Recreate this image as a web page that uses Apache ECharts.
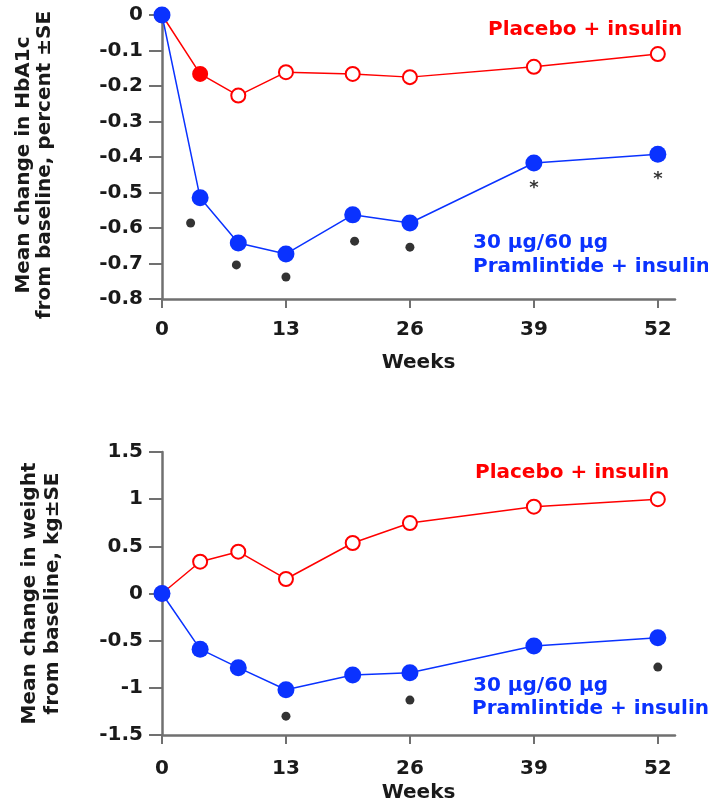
<!DOCTYPE html>
<html>
<head>
<meta charset="utf-8">
<script src="https://cdn.jsdelivr.net/npm/echarts@6/dist/echarts.min.js"></script>
<style>
html,body{margin:0;padding:0;background:#fff;}
#chart{width:708px;height:805px;}
</style>
</head>
<body>
<div id="chart"></div>
<script>
// ---- data ----
const weeks = [0, 4, 8, 13, 20, 26, 39, 52];
const weekTicks = [0, 13, 26, 39, 52];

const hba1cPlacebo = [0, -0.166, -0.227, -0.161, -0.166, -0.175, -0.146, -0.11];
const hba1cPram = [0, -0.515, -0.642, -0.673, -0.563, -0.586, -0.417, -0.392];
const hba1cDotWeeks = [3, 7.8, 13, 20.2, 26];
const hba1cDotValues = [-0.586, -0.704, -0.738, -0.637, -0.654];
const hba1cStarWeeks = [39, 52];
const hba1cStarValues = [-0.479, -0.454];

const weightPlacebo = [0, 0.337, 0.443, 0.154, 0.535, 0.747, 0.92, 1.0];
const weightPram = [0, -0.59, -0.786, -1.02, -0.863, -0.839, -0.556, -0.47];
const weightDotWeeks = [13, 26, 52];
const weightDotValues = [-1.30, -1.13, -0.78];

const placeboLabel = 'Placebo + insulin';
const pramLabel1 = '30 µg/60 µg';
const pramLabel2 = 'Pramlintide + insulin';
const hba1cTitle = 'Mean change in HbA1c\nfrom baseline, percent ±SE';
const weightTitle = 'Mean change in weight\nfrom baseline, kg±SE';
const xTitle = 'Weeks';

// ---- styling ----
const FONT = 'DejaVu Sans';
const FS = 20;
const RED = '#ff0000';
const BLUE = '#0a32ff';
const AXIS = '#707070';
const TXT = '#1a1a1a';

const zip = (xs, ys) => xs.map((x, i) => [x, ys[i]]);

function xAxisDef(gridIndex, nameGap, labelMargin) {
  return {
    type: 'value', gridIndex, min: 0, max: 53.8,
    name: xTitle, nameLocation: 'middle', nameGap,
    nameTextStyle: {fontFamily: FONT, fontWeight: 'bold', fontSize: FS, color: TXT},
    axisLine: {onZero: false, lineStyle: {color: AXIS, width: 2.5}},
    axisTick: {show: true, length: 9, lineStyle: {color: AXIS, width: 2}, customValues: weekTicks},
    axisLabel: {customValues: weekTicks, margin: labelMargin, fontFamily: FONT, fontWeight: 'bold', fontSize: FS, color: TXT},
    splitLine: {show: false}
  };
}
function yAxisDef(gridIndex, min, max, interval, name, nameGap, lineHeight, padding) {
  return {
    type: 'value', gridIndex, min, max, interval,
    name, nameLocation: 'middle', nameGap, nameRotate: 90,
    nameTextStyle: {fontFamily: FONT, fontWeight: 'bold', fontSize: FS, color: TXT, lineHeight, align: 'center', padding},
    axisLine: {show: true, onZero: false, lineStyle: {color: AXIS, width: 2.5}},
    axisTick: {show: true, length: 13, lineStyle: {color: AXIS, width: 2}},
    axisLabel: {margin: 19, fontFamily: FONT, fontWeight: 'bold', fontSize: FS, color: TXT,
      formatter: v => String(parseFloat(v.toFixed(2)))},
    splitLine: {show: false}
  };
}

function placeboSeries(idx, data, filledIdx) {
  return {
    type: 'line', xAxisIndex: idx, yAxisIndex: idx, z: 2,
    data: data.map((d, i) => filledIdx.includes(i) ? {value: d, itemStyle: {color: RED}} : d),
    symbol: 'circle', symbolSize: 14, showAllSymbol: true,
    lineStyle: {color: RED, width: 1.5},
    itemStyle: {color: '#fff', borderColor: RED, borderWidth: 2}
  };
}
function pramSeries(idx, data) {
  return {
    type: 'line', xAxisIndex: idx, yAxisIndex: idx, z: 3,
    data, symbol: 'circle', symbolSize: 17, showAllSymbol: true,
    lineStyle: {color: BLUE, width: 1.5},
    itemStyle: {color: BLUE, borderWidth: 0}
  };
}
function dotSeries(idx, data) {
  return {
    type: 'scatter', xAxisIndex: idx, yAxisIndex: idx, z: 4,
    data, symbol: 'circle', symbolSize: 9, itemStyle: {color: '#000'}
  };
}
function starSeries(idx, data) {
  return {
    type: 'scatter', xAxisIndex: idx, yAxisIndex: idx, z: 4,
    data, symbol: 'circle', symbolSize: 1, itemStyle: {color: 'rgba(0,0,0,0)'},
    label: {show: true, position: 'inside', formatter: '*', color: '#000',
      fontFamily: FONT, fontWeight: 'bold', fontSize: 18, offset: [0, 3]}
  };
}

function txt(x, y, text, color) {
  return {type: 'text', x, y,
    style: {text, fill: color, font: 'bold ' + FS + 'px "' + FONT + '"', align: 'left', verticalAlign: 'middle'}};
}

const option = {
  animation: false,
  backgroundColor: '#fff',
  grid: [
    {left: 162, top: 15, width: 513, height: 284, containLabel: false, outerBoundsMode: 'none'},
    {left: 162, top: 452, width: 513, height: 283, containLabel: false, outerBoundsMode: 'none'}
  ],
  xAxis: [xAxisDef(0, 54, 21), xAxisDef(1, 48, 24)],
  yAxis: [
    yAxisDef(0, -0.8, 0, 0.1, hba1cTitle, 107, 21, [0, 16, 0, 0]),
    yAxisDef(1, -1.5, 1.5, 0.5, weightTitle, 98, 23, [0, 0, 0, 0])
  ],
  series: [
    placeboSeries(0, zip(weeks, hba1cPlacebo), [1]),
    pramSeries(0, zip(weeks, hba1cPram)),
    dotSeries(0, zip(hba1cDotWeeks, hba1cDotValues)),
    starSeries(0, zip(hba1cStarWeeks, hba1cStarValues)),
    placeboSeries(1, zip(weeks, weightPlacebo), []),
    pramSeries(1, zip(weeks, weightPram)),
    dotSeries(1, zip(weightDotWeeks, weightDotValues))
  ],
  graphic: [
    txt(488, 30, placeboLabel, RED),
    txt(473, 243, pramLabel1, BLUE),
    txt(473, 267, pramLabel2, BLUE),
    txt(475, 473, placeboLabel, RED),
    txt(473, 686, pramLabel1, BLUE),
    txt(472, 709, pramLabel2, BLUE)
  ]
};

const chart = echarts.init(document.getElementById('chart'), null, {renderer: 'canvas'});
chart.setOption(option);
</script>
</body>
</html>
